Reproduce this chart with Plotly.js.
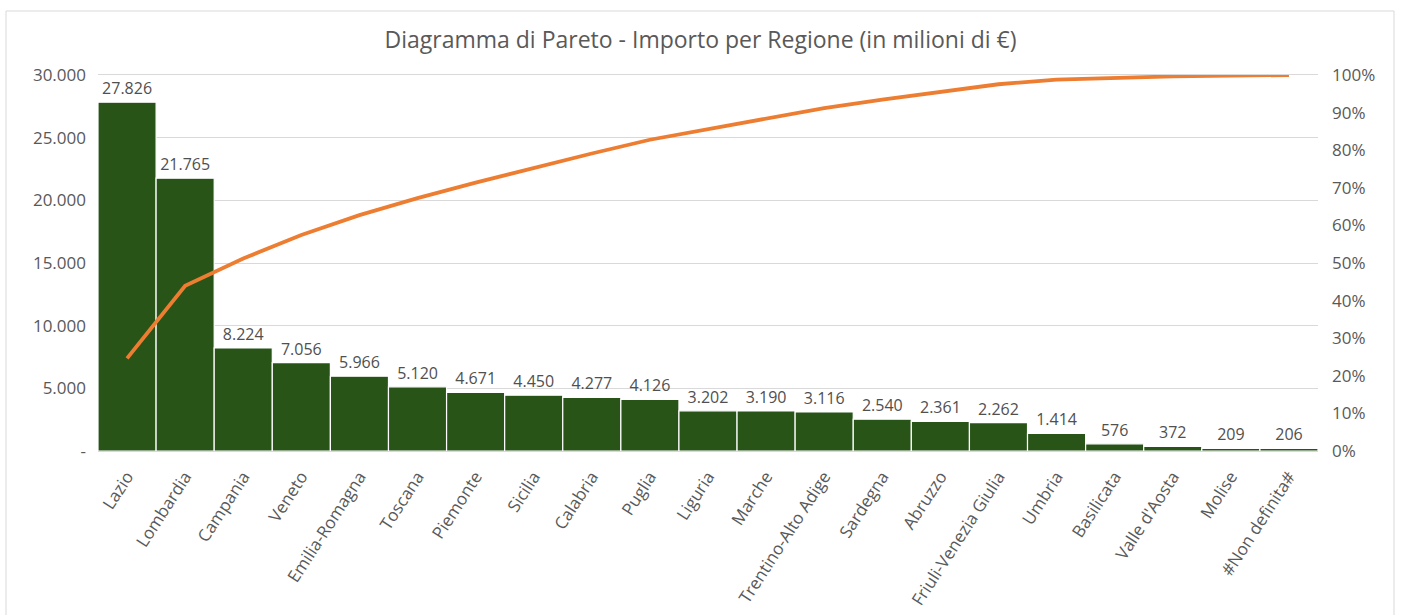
<!DOCTYPE html>
<html>
<head>
<meta charset="utf-8">
<script src="https://cdn.plot.ly/plotly-3.0.1.min.js"></script>
<style>
html,body{margin:0;padding:0;background:#fff;}
#chart{width:1401px;height:615px;}
</style>
</head>
<body>
<div id="chart"></div>
<script>
const regions = ["Lazio","Lombardia","Campania","Veneto","Emilia-Romagna","Toscana","Piemonte","Sicilia","Calabria","Puglia","Liguria","Marche","Trentino-Alto Adige","Sardegna","Abruzzo","Friuli-Venezia Giulia","Umbria","Basilicata","Valle d'Aosta","Molise","#Non definita#"];
const importi = [27826,21765,8224,7056,5966,5120,4671,4450,4277,4126,3202,3190,3116,2540,2361,2262,1414,576,372,209,206];
const leftTickVals = [0,5000,10000,15000,20000,25000,30000];
const leftTickText = ["-","5.000","10.000","15.000","20.000","25.000","30.000"];
const rightTickVals = [0,10,20,30,40,50,60,70,80,90,100];
const rightTickText = ["0%","10%","20%","30%","40%","50%","60%","70%","80%","90%","100%"];

const total = importi.reduce((a,b)=>a+b,0);
let run = 0;
const cumPct = importi.map(v => { run += v; return run/total*100; });

const W = 1401, H = 615;
const M = {l:98, r:83, t:75, b:164};
const pw = W - M.l - M.r, ph = H - M.t - M.b;
const px = v => (v - M.l)/pw;
const py = v => 1 - (v - M.t)/ph;

const fontFam = "'Open Sans', 'Noto Sans', sans-serif";
const gray = "#595959";

const traces = [
  {
    type: "bar",
    x: regions,
    y: importi,
    marker: {color: "#285418", line: {color: "#ffffff", width: 1.2}},
    text: importi,
    texttemplate: "%{y:,.0f}",
    textposition: "outside",
    textfont: {size: 16, color: "#505050", family: fontFam},
    cliponaxis: false,
    hoverinfo: "x+y",
    yaxis: "y"
  },
  {
    type: "scatter",
    mode: "lines",
    x: regions,
    y: cumPct,
    line: {color: "#ED7D31", width: 3.8},
    yaxis: "y2",
    cliponaxis: false
  }
];

const layout = {
  width: W, height: H,
  margin: M,
  separators: ",.",
  paper_bgcolor: "#ffffff",
  plot_bgcolor: "#ffffff",
  showlegend: false,
  bargap: 0,
  font: {family: fontFam, color: gray, size: 17},
  title: {
    text: "Diagramma di Pareto - Importo per Regione (in milioni di €)",
    font: {size: 23, color: gray, family: fontFam},
    x: 0.5, xref: "container", xanchor: "center",
    y: 1 - 40/H, yref: "container", yanchor: "middle"
  },
  xaxis: {
    type: "category",
    tickangle: -57,
    tickfont: {size: 17, color: gray},
    showgrid: false,
    showline: true,
    linecolor: "#d9d9d9",
    linewidth: 1,
    mirror: true,
    ticks: "",
    ticklabelstandoff: 8,
    automargin: false
  },
  yaxis: {
    range: [0, 30000],
    tickvals: leftTickVals,
    ticktext: leftTickText,
    tickfont: {size: 17, color: gray},
    showgrid: true,
    gridcolor: "#d9d9d9",
    gridwidth: 1,
    zeroline: false,
    showline: false,
    ticks: "",
    ticklabelstandoff: 11,
    automargin: false
  },
  yaxis2: {
    overlaying: "y",
    side: "right",
    range: [0, 100],
    tickvals: rightTickVals,
    ticktext: rightTickText,
    tickfont: {size: 17, color: gray},
    showgrid: false,
    zeroline: false,
    showline: false,
    ticks: "",
    ticklabelstandoff: 13,
    automargin: false
  },
  shapes: [
    {
      type: "rect", xref: "paper", yref: "paper",
      x0: px(6), x1: px(1394), y0: py(11), y1: py(640),
      line: {color: "#d9d9d9", width: 1}, fillcolor: "rgba(0,0,0,0)",
      layer: "below"
    }
  ]
};

Plotly.newPlot("chart", traces, layout, {displayModeBar: false, staticPlot: true});
</script>
</body>
</html>
